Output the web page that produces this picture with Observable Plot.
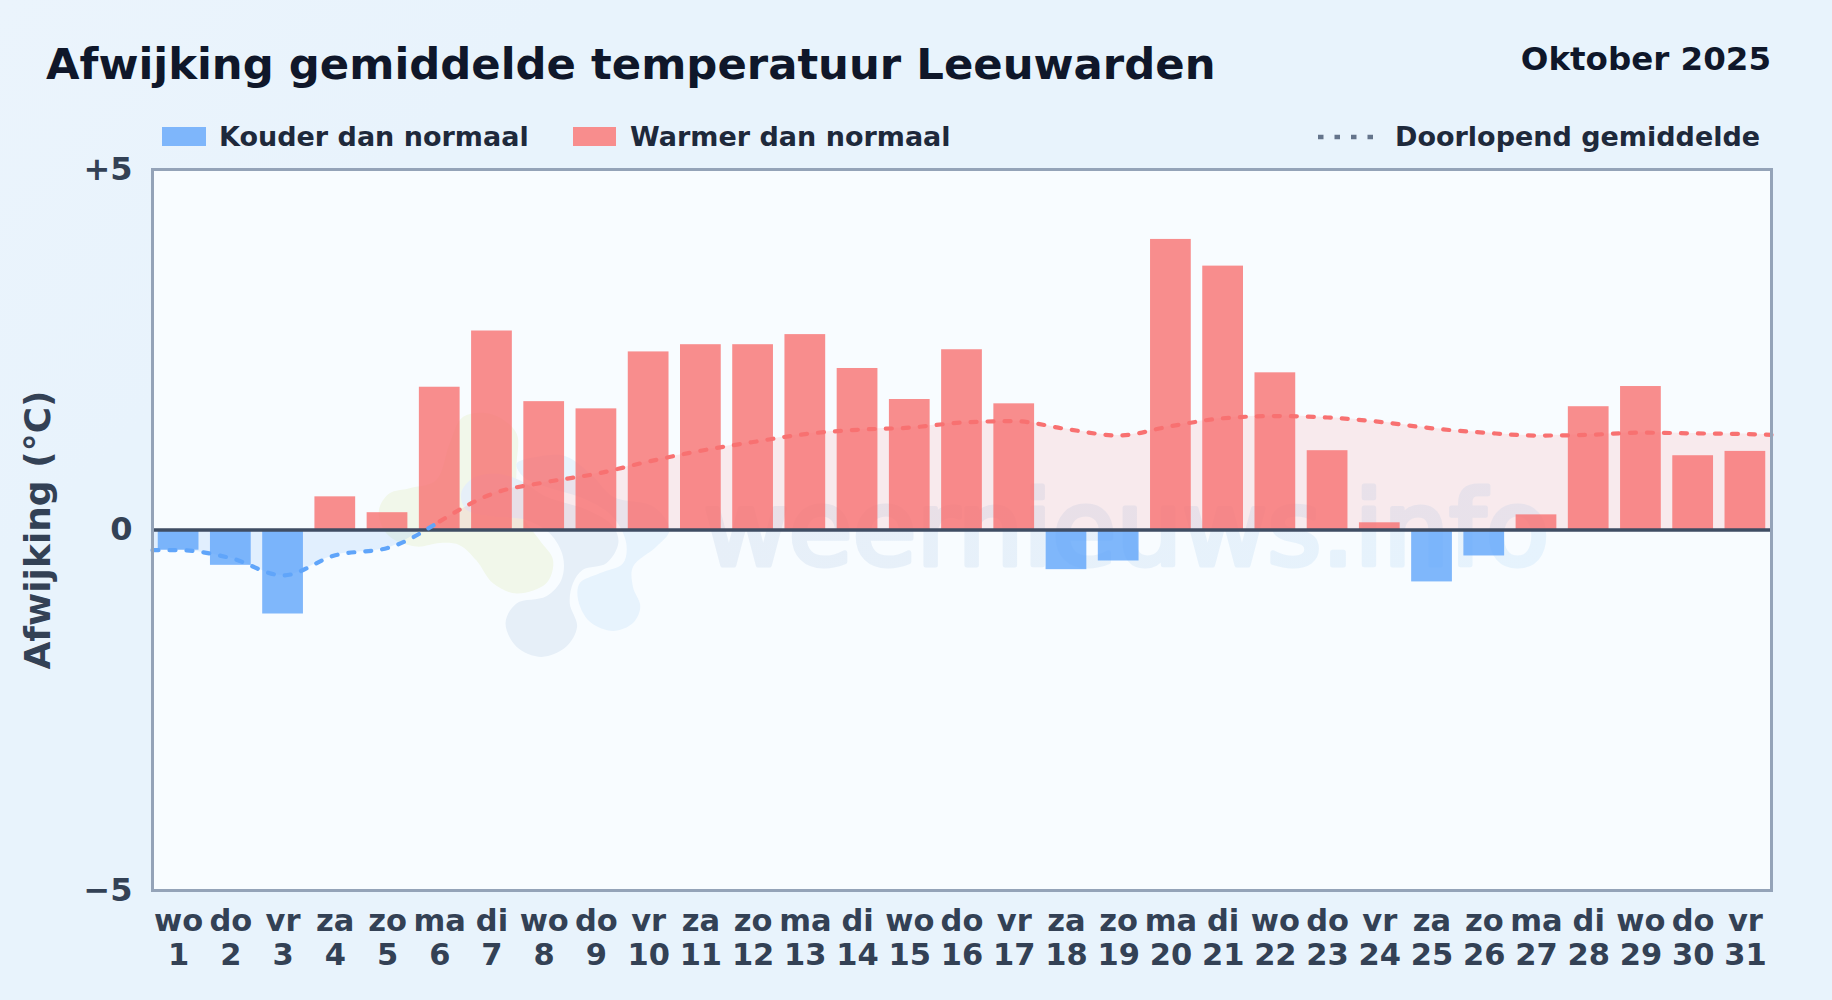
<!DOCTYPE html>
<html lang="nl">
<head>
<meta charset="utf-8">
<script src="https://cdn.jsdelivr.net/npm/d3@7"></script>
<script src="https://cdn.jsdelivr.net/npm/@observablehq/plot@0.6"></script>
<style>
  html, body { margin: 0; padding: 0; }
  body { width: 1832px; height: 1000px; overflow: hidden; position: relative;
         background: linear-gradient(135deg, #ebf4fc 0%, #e8f3fc 20%, #e8f3fc 100%);
         font-family: "DejaVu Sans", sans-serif; font-weight: 700; }
  .t { position: absolute; white-space: nowrap; line-height: 1; }
  #title { left: 46px; top: 43px; font-size: 43.35px; color: #0f172a; }
  #month { right: 61px; top: 43px; font-size: 32.5px; color: #0f172a; }
  .lg { top: 123px; font-size: 27px; color: #1e293b; }
  .sw { position: absolute; top: 127px; height: 19px; }
  #chart { position: absolute; left: 0; top: 120px; }
  #chart svg { display: block; }
</style>
</head>
<body>
<div id="title" class="t">Afwijking gemiddelde temperatuur Leeuwarden</div>
<div id="month" class="t">Oktober 2025</div>
<div class="sw" style="left:162px;width:44px;background:#7eb6fb"></div>
<div class="t lg" style="left:219px">Kouder dan normaal</div>
<div class="sw" style="left:573px;width:43px;background:#f88d8d"></div>
<div class="t lg" style="left:630px">Warmer dan normaal</div>
<svg class="sw" style="left:1316px;width:60px" height="19"><line x1="2" x2="60" y1="10" y2="10" stroke="#64748b" stroke-width="4.5" stroke-dasharray="5.5 11"/></svg>
<div class="t lg" style="left:1395px">Doorlopend gemiddelde</div>
<div id="chart"></div>
<script>
const days = d3.range(1, 32);
const weekdays = ["wo","do","vr","za","zo","ma","di","wo","do","vr","za","zo","ma","di","wo","do","vr","za","zo","ma","di","wo","do","vr","za","zo","ma","di","wo","do","vr"];
const anomaly = [-0.28,-0.49,-1.165,0.46,0.24,1.98,2.76,1.78,1.68,2.47,2.57,2.57,2.71,2.24,1.81,2.5,1.75,-0.55,-0.43,4.03,3.66,2.18,1.1,0.1,-0.72,-0.36,0.21,1.71,1.99,1.03,1.09];
const runningDays = [0.5,1,2,3,4,5,6];
const runningCold = [-0.28,-0.28,-0.39,-0.63,-0.35,-0.25,0.12];
const crossingDay = 5.65;
const warmDays = [6,7,8,9,10,11,12,13,14,15,16,17,18,19,20,21,22,23,24,25,26,27,28,29,30,31,31.5];
const runningWarm = [0.12,0.5,0.66,0.78,0.95,1.1,1.22,1.33,1.39,1.42,1.49,1.51,1.40,1.31,1.44,1.55,1.58,1.56,1.50,1.41,1.35,1.31,1.32,1.35,1.34,1.33,1.32];
const yTicks = [-5, 0, 5];
const yTickLabels = ["\u22125", "0", "+5"];

// Faint logo behind the bars, in day / value units
const logoGreen = [[4.85,.32],[5.04,.51],[5.42,.58],[5.93,.69],[6.19,1.2],[6.45,1.57],[7.02,1.6],[7.47,1.34],[7.47,.88],[7.5,.3],[7.91,-.14],[8.17,-.42],[8.04,-.74],[7.47,-.88],[7.02,-.74],[6.7,-.42],[6.38,-.21],[6,-.18],[5.55,-.23],[5.04,-.09],[4.85,.14]];
const logoSlate = [[6.41,.51],[6.64,.72],[7.08,.78],[7.53,.69],[8.04,.46],[8.81,.28],[9.32,.05],[9.42,-.18],[9.19,-.46],[8.74,-.55],[8.55,-.74],[8.49,-1.02],[8.63,-1.34],[8.42,-1.62],[7.95,-1.76],[7.47,-1.62],[7.26,-1.29],[7.47,-1.02],[8.04,-.92],[8.33,-.69],[8.36,-.37],[8.11,-.05],[7.66,.14],[7.02,.19],[6.51,.28]];
const logoBlue = [[7.47,.92],[7.91,1.02],[8.42,1.02],[8.94,.74],[9.32,.46],[10.1,.32],[10.4,0],[10.15,-.23],[9.7,-.51],[9.7,-.79],[9.84,-1.06],[9.7,-1.29],[9.32,-1.4],[8.87,-1.27],[8.65,-.97],[8.68,-.74],[9.06,-.6],[9.51,-.46],[9.57,-.18],[9.32,.18],[8.81,.42],[8.04,.6],[7.6,.74]];

const bars = days.map((d, i) => ({day: d, v: anomaly[i]}));
const coldLine = runningDays.map((d, i) => ({day: d, v: runningCold[i]}));
const warmLine = warmDays.map((d, i) => ({day: d, v: runningWarm[i]}));
const coldArea = [...coldLine.filter(d => d.day < crossingDay), {day: crossingDay, v: 0}];
const warmArea = [{day: crossingDay, v: 0}, ...warmLine];

const blue = "#60a5fa", red = "#f87171", curve = "monotone-x";
const logo = (pts, fill) => Plot.line(pts, {x: "0", y: "1", curve: "catmull-rom-closed", stroke: "none", fill});
const dashed = (data, stroke) => Plot.line(data, {x: "day", y: "v", curve, stroke, strokeWidth: 4.2, strokeDasharray: "6 11", strokeLinecap: "round"});

const gradientDefs = () => {
  const defs = d3.create("svg:defs");
  const g = defs.append("linearGradient").attr("id", "wm");
  g.append("stop").attr("offset", "0%").attr("stop-color", "#e7eff8");
  g.append("stop").attr("offset", "100%").attr("stop-color", "#e6f3fd");
  return defs.node();
};

const chart = Plot.plot({
  width: 1832, height: 880,
  marginLeft: 152, marginRight: 61, marginTop: 49, marginBottom: 110,
  style: {fontFamily: "'DejaVu Sans', sans-serif", background: "transparent", overflow: "visible"},
  x: {domain: [0.5, 31.5], label: null},
  y: {domain: [-5, 5], label: null},
  marks: [
    gradientDefs,
    Plot.frame({fill: "#f8fcff", stroke: "none"}),
    logo(logoGreen, "#f1f7ea"),
    logo(logoBlue, "#e7f3fd"),
    logo(logoSlate, "#e6eff8"),
    Plot.text(["weernieuws.info"], {x: 11.05, y: -0.485, textAnchor: "start", lineAnchor: "bottom", fontSize: 104, fontWeight: 400, fill: "url(#wm)", stroke: "url(#wm)", strokeWidth: 5, text: d => d}),
    Plot.areaY(coldArea, {x: "day", y1: () => 0, y2: "v", curve, fill: blue, fillOpacity: 0.15}),
    Plot.areaY(warmArea, {x: "day", y1: () => 0, y2: "v", curve, fill: red, fillOpacity: 0.13}),
    Plot.rect(bars, {x1: d => d.day - 0.39, x2: d => d.day + 0.39, y1: () => 0, y2: "v", fill: d => d.v < 0 ? blue : red, fillOpacity: 0.8}),
    Plot.ruleY([0], {stroke: "#3f4d63", strokeWidth: 3.4}),
    dashed(coldLine, blue),
    dashed(warmLine, red),
    Plot.frame({stroke: "#94a3b8", strokeWidth: 3}),
    Plot.axisY({ticks: yTicks, tickFormat: d => yTickLabels[yTicks.indexOf(d)], tickSize: 0, tickPadding: 20, label: null, fontSize: 32, fontWeight: 700, fill: "#334155"}),
    Plot.axisX({ticks: days, tickFormat: d => `${weekdays[d - 1]}\n${d}`, tickSize: 0, tickPadding: 17, label: null, fontSize: 30.5, fontWeight: 700, fill: "#334155", lineHeight: 1.1}),
    Plot.text(["Afwijking (\u00b0C)"], {frameAnchor: "left", dx: -114, rotate: -90, textAnchor: "middle", fontSize: 36, fontWeight: 700, fill: "#334155", text: d => d})
  ]
});
document.getElementById("chart").appendChild(chart);
</script>
</body>
</html>
